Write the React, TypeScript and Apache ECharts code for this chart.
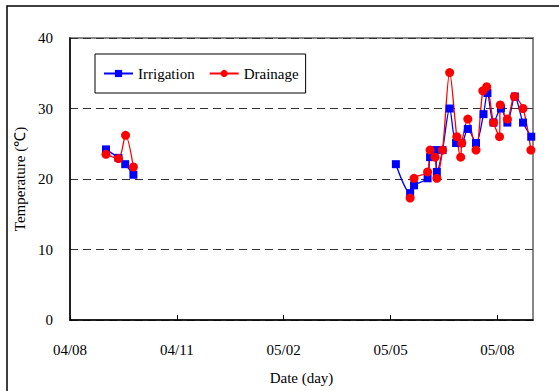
import React, { useEffect, useRef } from "react";
import * as echarts from "echarts";

const tickLabels = ["04/08", "04/11", "05/02", "05/05", "05/08"];

const irrigationX = [1.01, 1.36, 1.55, 1.78, 5, 9.15, 9.55, 9.66, 10.04, 10.11, 10.27, 10.3, 10.46, 10.66, 10.84, 10.99, 11.17, 11.4, 11.61, 11.72, 11.89, 12.1, 12.28, 12.49, 12.72, 12.95];
const irrigationY: (number | null)[] = [24.2, 23.0, 22.1, 20.6, null, 22.1, 18.0, 19.1, 20.1, 23.1, 24.1, 21.0, 24.1, 30.0, 25.1, 25.1, 27.1, 25.1, 29.2, 32.2, 28.0, 30.0, 28.0, 31.7, 28.0, 26.0];

const drainageX = [1.01, 1.36, 1.56, 1.78, 5, 9.55, 9.66, 10.04, 10.11, 10.25, 10.3, 10.46, 10.66, 10.86, 10.97, 11.0, 11.17, 11.4, 11.59, 11.7, 11.89, 12.06, 12.08, 12.28, 12.48, 12.72, 12.94];
const drainageY: (number | null)[] = [23.5, 22.9, 26.2, 21.7, null, 17.3, 20.1, 21.0, 24.1, 23.1, 20.1, 24.1, 35.1, 26.0, 23.1, 25.1, 28.5, 24.1, 32.5, 33.1, 28.0, 26.0, 30.5, 28.5, 31.7, 30.0, 24.1];

const FONT = "'Liberation Serif', 'Times New Roman', serif";

function pairs(xs: number[], ys: (number | null)[]) {
  return xs.map((x, i) => [x, ys[i] === null ? "-" : ys[i]]);
}

export default function App() {
  const ref = useRef<HTMLDivElement>(null);
  useEffect(() => {
    if (!ref.current) return;
    const chart = echarts.init(ref.current, undefined, { renderer: "svg" });
    chart.setOption({
      animation: false,
      backgroundColor: "#fff",
      textStyle: { fontFamily: FONT, color: "#000" },
      graphic: [
        {
          type: "rect",
          shape: { x: 7, y: 6, width: 700, height: 600 },
          style: { fill: "none", stroke: "#000", lineWidth: 1.5 },
          silent: true,
        },
      ],
      grid: {
        left: 70,
        right: 26,
        top: 38,
        bottom: 71,
        show: true,
        borderColor: "#888",
        borderWidth: 2,
        backgroundColor: "transparent",
      },
      legend: {
        left: 95,
        top: 54,
        padding: [11, 7, 11, 8],
        itemGap: 14,
        itemWidth: 29,
        itemHeight: 9,
        borderColor: "#000",
        borderWidth: 1,
        backgroundColor: "#fff",
        textStyle: { fontFamily: FONT, fontSize: 15, color: "#000", lineHeight: 17 },
        data: ["Irrigation", "Drainage"],
      },
      xAxis: {
        type: "value",
        min: 0,
        max: 13,
        interval: 3,
        name: "Date (day)",
        nameLocation: "middle",
        nameGap: 50,
        nameTextStyle: { fontFamily: FONT, fontSize: 15, color: "#000" },
        axisLine: { lineStyle: { color: "#000", width: 1.5 } },
        axisTick: { show: true, inside: true, length: 5, lineStyle: { color: "#000" } },
        splitLine: { show: false },
        axisLabel: {
          fontFamily: FONT,
          fontSize: 15,
          color: "#000",
          margin: 22,
          showMaxLabel: false,
          formatter: (v: number) => tickLabels[Math.round(v / 3)] ?? "",
        },
      },
      yAxis: {
        type: "value",
        min: 0,
        max: 40,
        interval: 10,
        name: "Temperature (\u2103)",
        nameLocation: "middle",
        nameGap: 42,
        nameTextStyle: { fontFamily: FONT, fontSize: 15, color: "#000" },
        axisLine: { show: true, lineStyle: { color: "#000", width: 1.5 } },
        axisTick: { show: false },
        axisLabel: { fontFamily: FONT, fontSize: 15, color: "#000", margin: 17 },
        splitLine: { show: true, lineStyle: { color: "#333", type: [8, 5], width: 1 } },
      },
      series: [
        {
          name: "Irrigation",
          type: "line",
          data: pairs(irrigationX, irrigationY),
          symbol: "rect",
          symbolSize: 8,
          smooth: 0.3,
          connectNulls: false,
          itemStyle: { color: "#0000FF" },
          lineStyle: { color: "#0000FF", width: 1.3 },
        },
        {
          name: "Drainage",
          type: "line",
          data: pairs(drainageX, drainageY),
          symbol: "circle",
          symbolSize: 9,
          smooth: 0.3,
          connectNulls: false,
          itemStyle: { color: "#FF0000" },
          lineStyle: { color: "#FF0000", width: 1.3 },
        },
      ],
    });
    return () => chart.dispose();
  }, []);
  return (
    <div
      ref={ref}
      style={{ position: "fixed", left: 0, top: 0, width: 559, height: 391 }}
    />
  );
}
